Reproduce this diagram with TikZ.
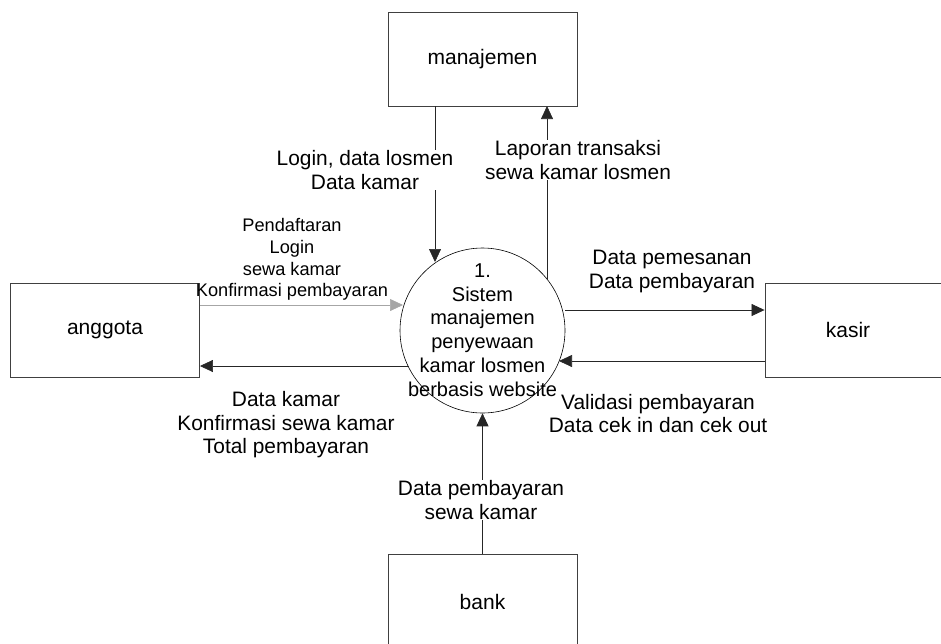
\documentclass[tikz,border=0pt]{standalone}
\usepackage{fontspec}
\setmainfont{Liberation Sans}
\usetikzlibrary{arrows.meta}
\begin{document}
\begin{tikzpicture}[x=1pt,y=-1pt,
  entity/.style={draw=black!75,line width=0.9pt,minimum width=189pt,inner sep=0pt,font=\fontsize{21}{24}\selectfont},
  proc/.style={draw=black,line width=0.6pt,circle,minimum size=165pt,inner sep=0pt},
  ptxt/.style={align=center,inner sep=0pt,font=\fontsize{20}{23.7}\selectfont},
  flow/.style={draw=black!85,line width=0.7pt,-{Triangle[length=13pt,width=12pt]}},
  lbl/.style={align=center,font=\fontsize{20.9}{23.5}\selectfont,inner sep=1pt},
  slbl/.style={align=center,font=\fontsize{18.2}{21.8}\selectfont,inner sep=1pt}]
\useasboundingbox (0,0) rectangle (941,643);
\clip (0,0) rectangle (941,643);
% entities
\node[entity,minimum height=94pt] (man) at (482.5,59) {manajemen};
\node[entity,minimum height=94pt] (ang) at (105,330) {anggota};
\node[entity,minimum height=94pt,minimum width=200pt] (kas) at (865,330) {\hspace*{-34pt}kasir};
\node[entity,minimum height=96pt] (bank) at (482.5,602) {bank};
% process
\node[proc] (p) at (482.5,330.5) {};
\node[ptxt] (ptext) at (482.5,330) {1.\\Sistem\\manajemen\\penyewaan\\kamar losmen\\berbasis website};
% coordinates
\coordinate (mA) at (435,106);
\coordinate (mB) at (547,106);
\coordinate (pT) at (435,262);
\coordinate (pTR) at (547,279);
% flows
\draw[flow] (mA) -- (pT);
\draw[flow] (pTR) -- (mB);
\draw[flow,draw=black!35] (ang.east |- 0,305) -- (403,305) coordinate (pL);
\draw[flow] (409,366) coordinate (pLB) -- (ang.east |- 0,366);
\draw[flow] (565,310) coordinate (pR) -- (kas.west |- 0,310);
\draw[flow] (kas.west |- 0,361) -- (559,361) coordinate (pRB);
\draw[flow] (bank.north) -- (p.south);
% labels
\node[lbl,fill=white] (l1) at (365,170) {Login, data losmen\\Data kamar};
\node[lbl,fill=white] (l2) at (578,160) {Laporan transaksi\\sewa kamar losmen};
\node[slbl] (l3) at (292,259.5) {Pendaftaran\\Login\\sewa kamar\\Konfirmasi pembayaran};
\node[lbl] (l4) at (286,425) {Data kamar\\Konfirmasi sewa kamar\\Total pembayaran};
\node[lbl] (l5) at (672,271.5) {Data pemesanan\\Data pembayaran};
\node[lbl] (l6) at (658,413.5) {Validasi pembayaran\\Data cek in dan cek out};
\node[lbl,fill=white] (l7) at (481,500) {Data pembayaran\\sewa kamar};
\end{tikzpicture}
\end{document}
